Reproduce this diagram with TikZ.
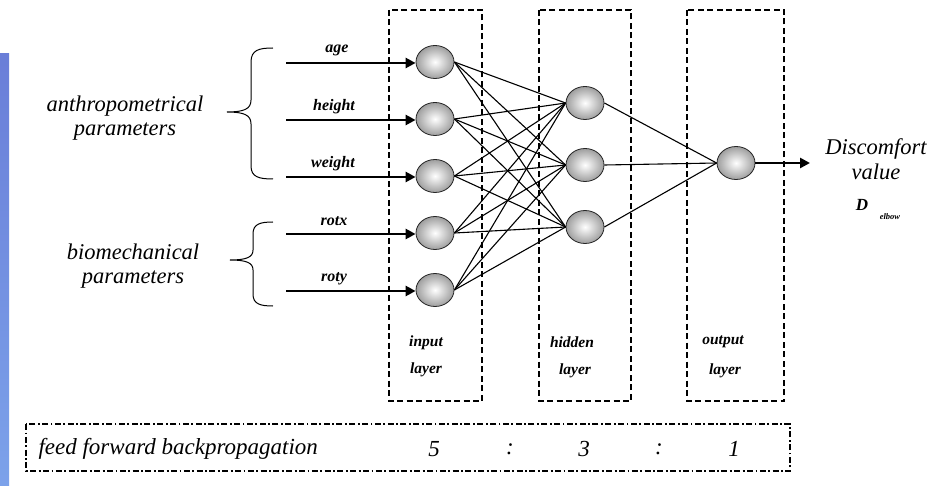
\documentclass[tikz,border=0pt]{standalone}
\usepackage{fontspec}
\setmainfont{Liberation Serif}
\usetikzlibrary{arrows.meta,shapes.geometric}
\definecolor{bartop}{HTML}{6A7ED8}
\definecolor{barbot}{HTML}{7CA2EA}
\tikzset{
  neuron/.style={ellipse, draw=black!85, line width=0.8pt, minimum width=38pt, minimum height=33pt, inner sep=0pt,
    inner color=white, outer color=black!38},
  layerbox/.style={draw, line width=2.5pt, dash pattern=on 6pt off 3.5pt},
  inarrow/.style={line width=2.6pt, -{Triangle[length=10pt,width=10pt]}},
  link/.style={line width=1.1pt},
  inlabel/.style={font=\fontsize{16}{18}\selectfont\bfseries\itshape},
  laylabel/.style={font=\fontsize{15.5}{17}\selectfont\bfseries\itshape},
  biglabel/.style={font=\fontsize{22.5}{26}\selectfont\itshape, align=center},
  bottomtext/.style={font=\fontsize{23}{26}\selectfont\itshape},
  brace/.style={line width=1pt},
}
\begin{document}
\begin{tikzpicture}[x=1pt,y=-1pt]
\useasboundingbox (0,0) rectangle (928,486);
% left blue bar
\shade[top color=bartop, bottom color=barbot] (0,54) rectangle (9,486);

% layer boxes
\draw[layerbox] (389,10) rectangle (482,401);
\draw[layerbox] (539,10) rectangle (631,401);
\draw[layerbox] (687,10) rectangle (784,401);

% neurons
\node[neuron] (i1) at (435,62) {};
\node[neuron] (i2) at (435,119) {};
\node[neuron] (i3) at (435,176) {};
\node[neuron] (i4) at (435,233) {};
\node[neuron] (i5) at (435,290) {};
\node[neuron] (h1) at (585,103) {};
\node[neuron] (h2) at (585,165) {};
\node[neuron] (h3) at (585,227) {};
\node[neuron] (o1) at (736,163) {};

% links
\foreach \i in {1,...,5}{
  \foreach \j in {1,2,3}{
    \draw[link] (i\i.east) -- (h\j.west);
  }
}
\foreach \j in {1,2,3}{
  \draw[link] (h\j.east) -- (o1.west);
}

% input arrows
\coordinate (s1) at (286,63);
\coordinate (s2) at (286,120);
\coordinate (s3) at (286,177);
\coordinate (s4) at (286,234);
\coordinate (s5) at (286,291);
\foreach \i in {1,...,5}{
  \draw[inarrow] (s\i) -- (s\i -| i\i.west);
}
% output arrow
\coordinate (e1) at (810,163);
\draw[inarrow] (o1.east) -- (e1);

% input labels
\node[inlabel] (lage) at (337,50) {age};
\node[inlabel] (lheight) at (334,107) {height};
\node[inlabel] (lweight) at (333,164) {weight};
\node[inlabel] (lrotx) at (334,221) {rotx};
\node[inlabel] (lroty) at (334,279) {roty};

% braces
\draw[brace] (273,48) .. controls (259,48) and (251,50) .. (251,62) -- (251,100)
  .. controls (251,109) and (244,112) .. (227,112)
  .. controls (244,112) and (251,115) .. (251,124) -- (251,166)
  .. controls (251,177) and (259,179) .. (273,179);
\draw[brace] (273,222) .. controls (260,222) and (253,224) .. (253,234) -- (253,250)
  .. controls (253,257) and (247,260) .. (230,260)
  .. controls (247,260) and (253,263) .. (253,270) -- (253,294)
  .. controls (253,304) and (260,306) .. (273,306);

% group labels
\node[biglabel] (anthro) at (125,118) {anthropometrical\\[-2pt]parameters};
\node[biglabel] (bio) at (133,266) {biomechanical\\[-2pt]parameters};

% layer labels
\node[laylabel] (lin1) at (426,343) {input};
\node[laylabel] (lin2) at (426,370) {layer};
\node[laylabel] (lhid1) at (572,342) {hidden};
\node[laylabel] (lhid2) at (575,371) {layer};
\node[laylabel] (lout1) at (723,342) {output};
\node[laylabel] (lout2) at (725,371) {layer};

% output labels
\node[biglabel] (disc) at (876,159) {Discomfort\\[-1pt]value};
\node[font=\fontsize{17}{18}\selectfont\bfseries\itshape] (dlab) at (862,205) {D};
\node[font=\fontsize{8.5}{9}\selectfont\bfseries\itshape] (elbow) at (890,217) {elbow};

% bottom box
\draw[line width=2pt, dash pattern=on 6pt off 2.5pt on 1.8pt off 2.5pt] (26,424) rectangle (790,471);
\node[bottomtext, anchor=west] (ff) at (35,449) {feed forward backpropagation};
\node[bottomtext] (n5) at (434,449) {5};
\node[bottomtext] (c1) at (510,449) {:};
\node[bottomtext] (n3) at (584,449) {3};
\node[bottomtext] (c2) at (659,449) {:};
\node[bottomtext] (n1) at (734,449) {1};
\end{tikzpicture}
\end{document}
